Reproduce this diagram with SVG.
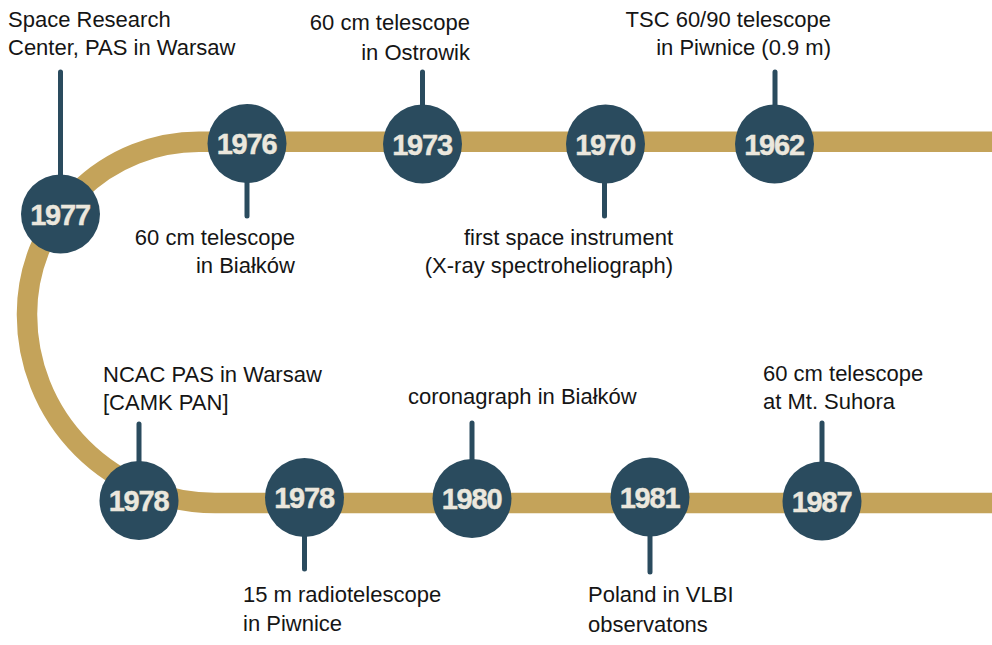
<svg xmlns="http://www.w3.org/2000/svg" width="992" height="645" viewBox="0 0 992 645">
<style>
.track{fill:none;stroke:#c4a35a;stroke-width:20.5}
.stem{stroke:#2a4b5e;stroke-width:5;stroke-linecap:round}
.dot{fill:#2a4b5e}
.yr{font-family:"Liberation Sans",Arial,sans-serif;font-weight:700;font-size:29px;fill:#ebe7dd;stroke:#ebe7dd;stroke-width:0.4px;text-anchor:middle;letter-spacing:-1.2px}
.lbl{font-family:"Liberation Sans",Arial,sans-serif;font-size:22px;fill:#151515}
.end{text-anchor:end}
</style>
<rect width="992" height="645" fill="#ffffff"/>
<g id="connectors">
<path class="track" d="M 992 141.75 H 199 A 172 172 0 0 0 27 314 V 315 A 188 188 0 0 0 215 503 H 992"/>
<line class="stem" x1="60.5" y1="72" x2="60.5" y2="180"/>
<line class="stem" x1="247" y1="180" x2="247" y2="216"/>
<line class="stem" x1="422.5" y1="72" x2="422.5" y2="110"/>
<line class="stem" x1="604.5" y1="180" x2="604.5" y2="216"/>
<line class="stem" x1="775" y1="72" x2="775" y2="110"/>
<line class="stem" x1="139" y1="424" x2="139" y2="465"/>
<line class="stem" x1="304.5" y1="530" x2="304.5" y2="569"/>
<line class="stem" x1="472" y1="423" x2="472" y2="465"/>
<line class="stem" x1="650" y1="530" x2="650" y2="572"/>
<line class="stem" x1="822" y1="423" x2="822" y2="465"/>
</g>
<g id="n1977">
<circle class="dot" cx="60.5" cy="214" r="39.5"/>
<text class="yr" x="60" y="224.5">1977</text>
<text class="lbl" x="8" y="27">Space Research</text>
<text class="lbl" x="8" y="55">Center, PAS in Warsaw</text>
</g>
<g id="n1976">
<circle class="dot" cx="247" cy="143.5" r="39.5"/>
<text class="yr" x="246.5" y="154">1976</text>
<text class="lbl end" x="295" y="245">60 cm telescope</text>
<text class="lbl end" x="295" y="273">in Białków</text>
</g>
<g id="n1973">
<circle class="dot" cx="422.5" cy="144" r="39.5"/>
<text class="yr" x="422" y="154.5">1973</text>
<text class="lbl end" x="470" y="30">60 cm telescope</text>
<text class="lbl end" x="470" y="59.5">in Ostrowik</text>
</g>
<g id="n1970">
<circle class="dot" cx="605.5" cy="144" r="39.5"/>
<text class="yr" x="605" y="154.5">1970</text>
<text class="lbl end" x="673" y="245">first space instrument</text>
<text class="lbl end" x="673" y="273">(X-ray spectroheliograph)</text>
</g>
<g id="n1962">
<circle class="dot" cx="774.5" cy="144" r="39.5"/>
<text class="yr" x="774" y="154.5">1962</text>
<text class="lbl end" x="831" y="27">TSC 60/90 telescope</text>
<text class="lbl end" x="831" y="55">in Piwnice (0.9 m)</text>
</g>
<g id="n1978a">
<circle class="dot" cx="139" cy="500.5" r="39.5"/>
<text class="yr" x="138.5" y="511">1978</text>
<text class="lbl" x="103" y="382">NCAC PAS in Warsaw</text>
<text class="lbl" x="103" y="410">[CAMK PAN]</text>
</g>
<g id="n1978b">
<circle class="dot" cx="304.5" cy="497.5" r="39.5"/>
<text class="yr" x="304" y="508">1978</text>
<text class="lbl" x="243" y="602">15 m radiotelescope</text>
<text class="lbl" x="243" y="631">in Piwnice</text>
</g>
<g id="n1980">
<circle class="dot" cx="472" cy="498.5" r="39.5"/>
<text class="yr" x="471.5" y="509">1980</text>
<text class="lbl" x="408" y="404">coronagraph in Białków</text>
</g>
<g id="n1981">
<circle class="dot" cx="650" cy="497" r="39.5"/>
<text class="yr" x="649.5" y="507.5">1981</text>
<text class="lbl" x="588" y="602">Poland in VLBI</text>
<text class="lbl" x="588" y="632">observatons</text>
</g>
<g id="n1987">
<circle class="dot" cx="822" cy="501" r="39.5"/>
<text class="yr" x="821.5" y="511.5">1987</text>
<text class="lbl" x="763" y="381">60 cm telescope</text>
<text class="lbl" x="763" y="409">at Mt. Suhora</text>
</g>
</svg>
